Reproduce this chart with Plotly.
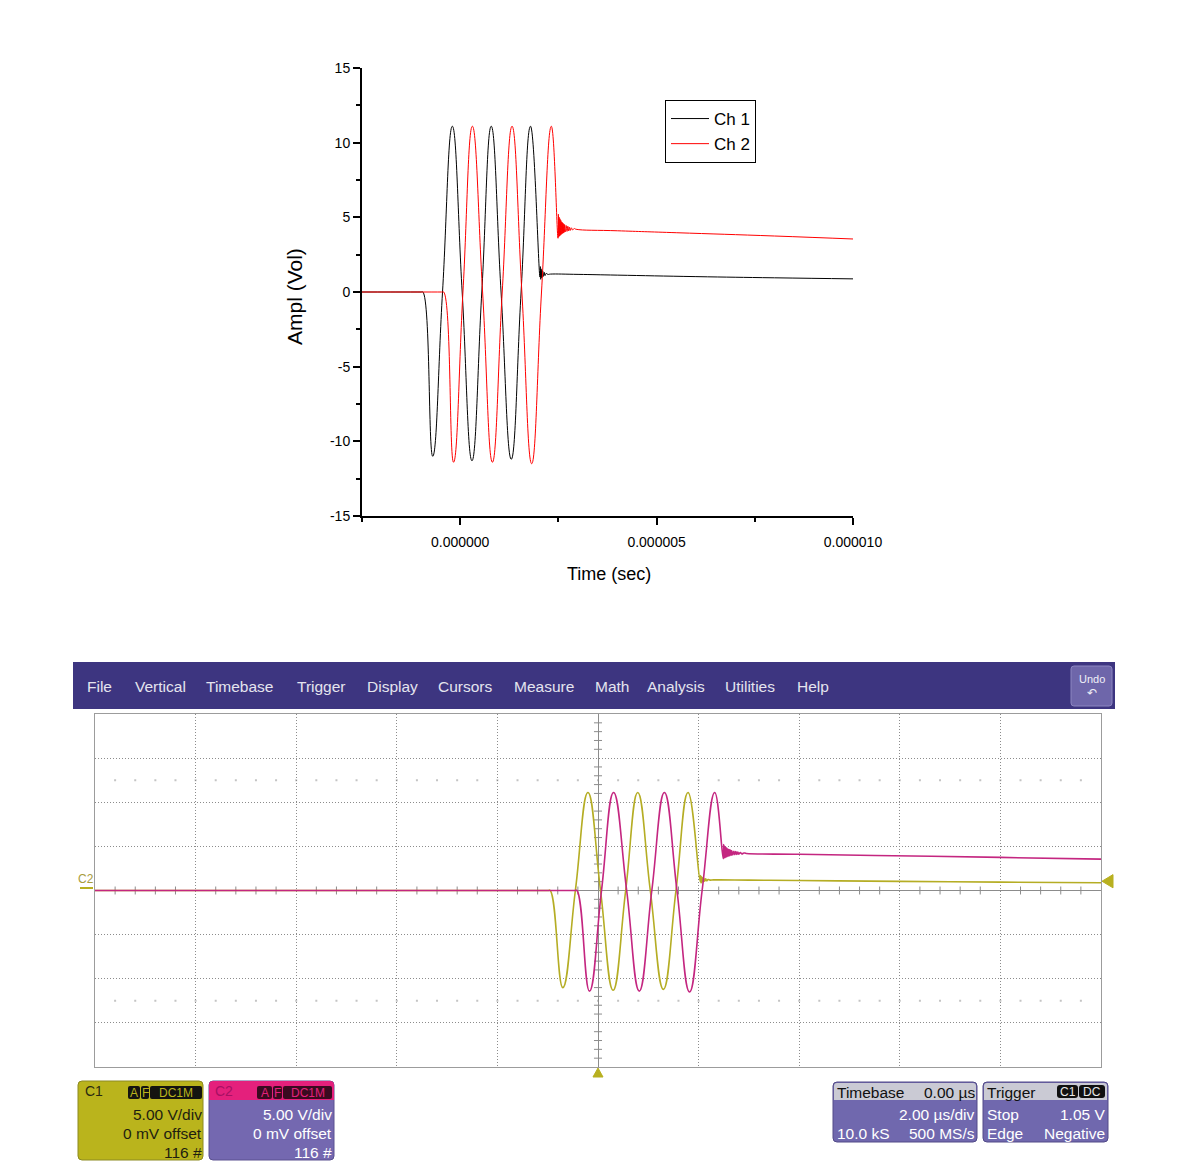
import plotly.graph_objects as go

# Figure sized to sit inside the page body (8px default margin) of the 1178x1175 window
FW, FH = 1162, 1159
FONT = "Liberation Sans, Arial, sans-serif"


def X(p):
    # p: horizontal pixel position in the photographed page
    return (p - 8) / FW


def Y(p):
    return 1 - (p - 8) / FH


# ---------------- data (time in microseconds, amplitude in volts) ----------------
ch1_time_us = [-10.0, -1.00, -0.95, -0.70, -0.45, -0.20, 0.05, 0.30, 0.55, 0.79, 1.04,
               1.30, 1.55, 1.79, 2.03, 2.04, 2.05, 2.06, 2.07, 2.08, 2.09, 2.10,
               2.12, 2.14, 2.16, 2.19, 2.23, 2.30,
               3.0, 4.0, 6.0, 8.0, 10.0]
ch1_volts = [0.0, 0.0, 0.0, -11.0, 0.0, 11.1, 0.0, -11.3, 0.0, 11.1, 0.0,
             -11.2, 0.0, 11.1, 1.0, 1.7, 0.85, 1.55, 0.95, 1.45, 1.0, 1.4,
             1.05, 1.32, 1.1, 1.25, 1.18, 1.2,
             1.18, 1.13, 1.03, 0.95, 0.88]

ch2_time_us = [-10.0, -0.47, -0.42, -0.17, 0.07, 0.31, 0.57, 0.82, 1.07, 1.32, 1.57,
               1.82, 2.07, 2.32, 2.49, 2.50, 2.51, 2.52, 2.53, 2.54, 2.55, 2.56, 2.57,
               2.58, 2.59, 2.60, 2.61, 2.62, 2.63, 2.64, 2.65, 2.66, 2.68, 2.70, 2.72,
               2.74, 2.76, 2.78, 2.80, 2.83, 2.86, 2.90, 2.95, 4.0, 5.5, 8.0, 10.0]
ch2_volts = [0.0, 0.0, 0.0, -11.4, 0.0, 11.1, 0.0, -11.4, 0.0, 11.1, 0.0,
             -11.5, 0.0, 11.1, 3.6, 5.2, 3.7, 5.0, 3.75, 4.9, 3.8, 4.8, 3.85,
             4.7, 3.9, 4.65, 3.93, 4.6, 3.96, 4.55, 4.0, 4.5, 4.03, 4.45, 4.06,
             4.4, 4.09, 4.35, 4.12, 4.3, 4.15, 4.25, 4.2, 4.1, 3.97, 3.75, 3.55]

series_names = ["Ch 1", "Ch 2"]
x_tick_values = [0.0, 5e-6, 1e-5]
x_tick_labels = ["0.000000", "0.000005", "0.000010"]
y_tick_values = [-15, -10, -5, 0, 5, 10, 15]
y_tick_labels = ["-15", "-10", "-5", "0", "5", "10", "15"]

menu_labels = ["File", "Vertical", "Timebase", "Trigger", "Display", "Cursors",
               "Measure", "Math", "Analysis", "Utilities", "Help"]
c1_lines = ["5.00 V/div", "0 mV offset", "116 #"]
c2_lines = ["5.00 V/div", "0 mV offset", "116 #"]
timebase_header = ["Timebase", "0.00 \u00b5s"]
timebase_lines = ["2.00 \u00b5s/div", "10.0 kS", "500 MS/s"]
trigger_lines = ["Stop", "1.05 V", "Edge", "Negative"]
trigger_level_v = 1.05

# ---------------- figure ----------------
ch1_time_s = [t * 1e-6 for t in ch1_time_us]
ch2_time_s = [t * 1e-6 for t in ch2_time_us]

fig = go.Figure()
fig.add_trace(go.Scatter(x=ch1_time_s, y=ch1_volts, mode="lines", name=series_names[0],
                         line=dict(color="black", width=1, shape="spline", smoothing=1.3),
                         xaxis="x", yaxis="y"))
fig.add_trace(go.Scatter(x=ch2_time_s, y=ch2_volts, mode="lines", name=series_names[1],
                         line=dict(color="#ff0000", width=1, shape="spline", smoothing=1.3),
                         xaxis="x", yaxis="y"))
fig.add_trace(go.Scatter(x=ch1_time_us, y=ch1_volts, mode="lines", showlegend=False,
                         line=dict(color="#b5ad24", width=1.6, shape="spline", smoothing=1.3),
                         xaxis="x2", yaxis="y2"))
fig.add_trace(go.Scatter(x=ch2_time_us, y=ch2_volts, mode="lines", showlegend=False,
                         line=dict(color="#c42680", width=1.6, shape="spline", smoothing=1.3),
                         xaxis="x2", yaxis="y2"))

shapes = []
annotations = []


def rect(x0, y0, x1, y1, fill, line_color=None, lw=0):
    shapes.append(dict(type="rect", xref="paper", yref="paper", x0=X(x0), x1=X(x1),
                       y0=Y(y1), y1=Y(y0), fillcolor=fill,
                       line=dict(color=line_color or fill, width=lw)))


def rrect(x0, y0, x1, y1, r, fill, line_color=None, lw=0):
    p = (f"M{X(x0 + r)},{Y(y0)} L{X(x1 - r)},{Y(y0)} Q{X(x1)},{Y(y0)} {X(x1)},{Y(y0 + r)} "
         f"L{X(x1)},{Y(y1 - r)} Q{X(x1)},{Y(y1)} {X(x1 - r)},{Y(y1)} L{X(x0 + r)},{Y(y1)} "
         f"Q{X(x0)},{Y(y1)} {X(x0)},{Y(y1 - r)} L{X(x0)},{Y(y0 + r)} Q{X(x0)},{Y(y0)} {X(x0 + r)},{Y(y0)} Z")
    shapes.append(dict(type="path", xref="paper", yref="paper", path=p, fillcolor=fill,
                       line=dict(color=line_color or fill, width=lw)))


def text(s, x, y, size=15, color="white", anchor="left", angle=0):
    annotations.append(dict(text=s, x=X(x), y=Y(y), xref="paper", yref="paper",
                            xanchor=anchor, yanchor="middle", showarrow=False,
                            textangle=angle, borderpad=0,
                            font=dict(size=size, color=color, family=FONT)))


# axis titles of the top chart
text("Ampl (Vol)", 295, 297, size=21, color="black", anchor="center", angle=-90)
text("Time (sec)", 609, 574, size=18, color="black", anchor="center")

# ---------------- oscilloscope menu bar ----------------
rect(73, 662, 1115, 709, "#3d3580")
menu_x = [86, 134, 205, 296, 366, 437, 513, 594, 646, 724, 796]
for lab, mx in zip(menu_labels, menu_x):
    text(lab, mx, 686, size=15.5, color="#e4e4ee")
rrect(1071, 666, 1112, 706, 3, "#6e66aa", "#8c86c0", 1)
text("Undo", 1092, 679, size=11, color="#f0f0f8", anchor="center")
text("\u21b6", 1092, 693, size=12, color="#f0f0f8", anchor="center")

# ---------------- scope grid decorations ----------------
for k in range(-24, 25):
    if k % 5:
        shapes.append(dict(type="line", xref="x2", yref="y2", x0=k * 0.4, x1=k * 0.4,
                           y0=-0.45, y1=0.45, line=dict(color="#8c8c8c", width=1), layer="below"))
for k in range(-19, 20):
    if k % 5:
        shapes.append(dict(type="line", xref="x2", yref="y2", x0=-0.08, x1=0.08,
                           y0=k * 1.0, y1=k * 1.0, line=dict(color="#8c8c8c", width=1), layer="below"))
for yy in (12.5, -12.5):
    shapes.append(dict(type="line", xref="x2", yref="y2", x0=-9.62, x1=9.62, y0=yy, y1=yy,
                       line=dict(color="#c4c4c4", width=2, dash="2px,18.12px"), layer="below"))

# C2 marker at left
text("C2", 86, 879, size=12, color="#a89c3c", anchor="center")
shapes.append(dict(type="line", xref="paper", yref="paper", x0=X(80), x1=X(93), y0=Y(888), y1=Y(888),
                   line=dict(color="#b8b020", width=2)))
# trigger level marker at right
shapes.append(dict(type="path", xref="paper", yref="y2",
                   path=f"M{X(1102)},{trigger_level_v} L{X(1113)},{trigger_level_v + 0.75} "
                        f"L{X(1113)},{trigger_level_v - 0.75} Z",
                   fillcolor="#b8b020", line=dict(color="#b8b020", width=1)))
# trigger position marker at bottom
shapes.append(dict(type="path", xref="x2", yref="paper",
                   path=f"M-0.1,{Y(1077)} L0.1,{Y(1077)} L0,{Y(1068)} Z",
                   fillcolor="#b8b020", line=dict(color="#b8b020", width=1)))

# ---------------- channel info boxes ----------------
# C1
rrect(78, 1081, 203, 1160, 4, "#bab41c", "#8c8a20", 1)
text("C1", 84, 1091, size=14, color="#2a2a10")
for bx0, bx1, lab in [(128, 140, "A"), (141, 149, "F"), (150, 202, "DC1M")]:
    rrect(bx0, 1086, bx1, 1099, 2, "#141410")
    text(lab, (bx0 + bx1) / 2, 1093, size=12, color="#bab41c", anchor="center")
for i, s in enumerate(c1_lines):
    text(s, 203, 1114 + 19 * i, size=15.5, color="#1e1e10", anchor="right")

# C2
rrect(209, 1081, 334, 1160, 4, "#7468b0", "#5a5090", 1)
rrect(209, 1081, 334, 1100, 4, "#e4207c")
rect(209, 1095, 334, 1100, "#e4207c")
text("C2", 214, 1091, size=14, color="#a81064")
for bx0, bx1, lab in [(257, 272, "A"), (273, 282, "F"), (283, 332, "DC1M")]:
    rrect(bx0, 1086, bx1, 1099, 2, "#3a0a20")
    text(lab, (bx0 + bx1) / 2, 1093, size=12, color="#e4207c", anchor="center")
for i, s in enumerate(c2_lines):
    text(s, 333, 1114 + 19 * i, size=15.5, color="white", anchor="right")

# Timebase
rrect(833, 1082, 977, 1142, 4, "#7068ae", "#524a88", 1)
rrect(834, 1083, 976, 1100, 3, "#cacad4")
rect(834, 1095, 976, 1100, "#cacad4")
text(timebase_header[0], 836, 1092, size=15.5, color="#101010")
text(timebase_header[1], 976, 1092, size=15.5, color="#101010", anchor="right")
text(timebase_lines[0], 976, 1114, size=15.5, color="white", anchor="right")
text(timebase_lines[1], 836, 1133, size=15.5, color="white")
text(timebase_lines[2], 976, 1133, size=15.5, color="white", anchor="right")

# Trigger
rrect(983, 1082, 1108, 1142, 4, "#7068ae", "#524a88", 1)
rrect(984, 1083, 1107, 1100, 3, "#cacad4")
rect(984, 1095, 1107, 1100, "#cacad4")
text("Trigger", 986, 1092, size=15.5, color="#101010")
for bx0, bx1, lab in [(1057, 1078, "C1"), (1079, 1105, "DC")]:
    rrect(bx0, 1085, bx1, 1098, 3, "#101010")
    text(lab, (bx0 + bx1) / 2, 1092, size=12, color="#e8e8e8", anchor="center")
text(trigger_lines[0], 986, 1114, size=15.5, color="white")
text(trigger_lines[1], 1106, 1114, size=15.5, color="white", anchor="right")
text(trigger_lines[2], 986, 1133, size=15.5, color="white")
text(trigger_lines[3], 1106, 1133, size=15.5, color="white", anchor="right")

fig.update_layout(
    width=FW, height=FH,
    margin=dict(l=0, r=0, t=0, b=0, autoexpand=False),
    paper_bgcolor="white", plot_bgcolor="white",
    font=dict(family=FONT, color="black"),
    showlegend=True,
    legend=dict(x=X(665), y=Y(100), xanchor="left", yanchor="top",
                bordercolor="black", borderwidth=1, bgcolor="white", itemwidth=38,
                font=dict(size=17, color="black", family=FONT), tracegroupgap=0),
    xaxis=dict(domain=[X(362), X(853)], range=[-2.5e-6, 1e-5], anchor="y",
               showline=True, linecolor="black", linewidth=2, showgrid=False, zeroline=False,
               ticks="outside", ticklen=7, tickwidth=2, tickcolor="black",
               tickmode="array", tickvals=x_tick_values, ticktext=x_tick_labels,
               tickfont=dict(size=14, color="black"), ticklabelstandoff=5,
               minor=dict(ticks="outside", ticklen=4, tickwidth=2, tickcolor="black",
                          tickmode="linear", tick0=0, dtick=2.5e-6, showgrid=False)),
    yaxis=dict(domain=[Y(516), Y(68)], range=[-15, 15], anchor="x",
               showline=True, linecolor="black", linewidth=2, showgrid=False, zeroline=False,
               ticks="outside", ticklen=7, tickwidth=2, tickcolor="black",
               tickmode="array", tickvals=y_tick_values, ticktext=y_tick_labels,
               tickfont=dict(size=14, color="black"),
               minor=dict(ticks="outside", ticklen=4, tickwidth=2, tickcolor="black",
                          tickmode="linear", tick0=0, dtick=2.5, showgrid=False)),
    xaxis2=dict(domain=[X(95), X(1101)], range=[-10, 10], anchor="y2",
                showline=True, mirror=True, linecolor="#9c9c9c", linewidth=1,
                showgrid=True, gridcolor="#8c8c8c", griddash="1px,2px", gridwidth=1,
                tickmode="linear", tick0=0, dtick=2, ticks="", showticklabels=False,
                zeroline=True, zerolinecolor="#8c8c8c", zerolinewidth=1),
    yaxis2=dict(domain=[Y(1067), Y(714)], range=[-20, 20], anchor="x2",
                showline=True, mirror=True, linecolor="#9c9c9c", linewidth=1,
                showgrid=True, gridcolor="#8c8c8c", griddash="1px,2px", gridwidth=1,
                tickmode="linear", tick0=0, dtick=5, ticks="", showticklabels=False,
                zeroline=True, zerolinecolor="#8c8c8c", zerolinewidth=1),
    shapes=shapes,
    annotations=annotations,
)

fig.write_html("out.html")
